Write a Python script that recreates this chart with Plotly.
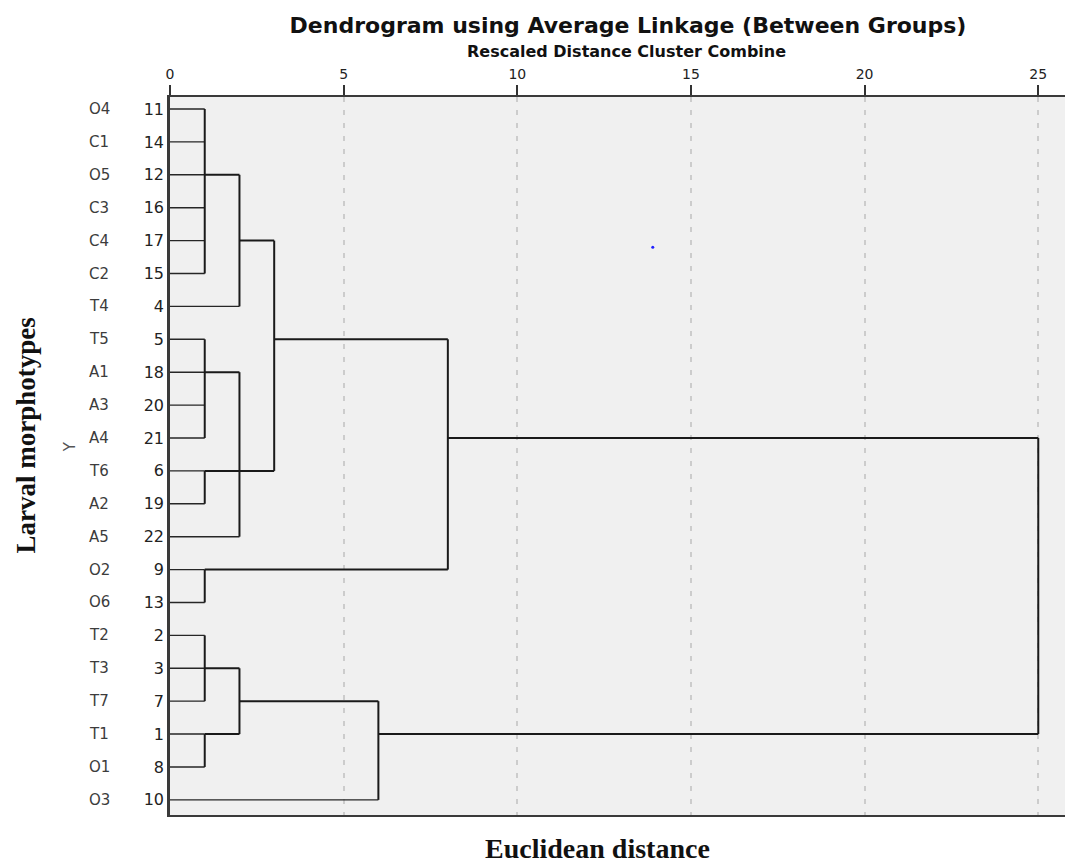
import math
import plotly.graph_objects as go

# ---------------- data ----------------
leaf_ids = [11, 14, 12, 16, 17, 15, 4, 5, 18, 20, 21, 6, 19, 22, 9, 13, 2, 3, 7, 1, 8, 10]
leaf_codes = ["O4", "C1", "O5", "C3", "C4", "C2", "T4", "T5", "A1", "A3", "A4",
              "T6", "A2", "A5", "O2", "O6", "T2", "T3", "T7", "T1", "O1", "O3"]

# merges (ints = case numbers, "M#" = earlier merge), with rescaled distances
merge_children = [
    [11, 14, 12, 16, 17, 15],   # M0
    ["M0", 4],                  # M1
    [5, 18, 20, 21],            # M2
    [6, 19],                    # M3
    ["M2", "M3", 22],           # M4
    ["M1", "M4"],               # M5
    [9, 13],                    # M6
    ["M5", "M6"],               # M7
    [2, 3, 7],                  # M8
    [1, 8],                     # M9
    ["M8", "M9"],               # M10
    ["M10", 10],                # M11
    ["M7", "M11"],              # M12
]
merge_heights = [1, 2, 1, 1, 2, 3, 1, 8, 1, 1, 2, 6, 25]

x_ticks = [0, 5, 10, 15, 20, 25]
stray_x = [13.9]
stray_y = [4.2]

# ---------------- build segments ----------------
pos = {lid: i for i, lid in enumerate(leaf_ids)}
hgt = {lid: 0 for lid in leaf_ids}

leaf_x, leaf_y, br_x, br_y = [], [], [], []
for k, (children, h) in enumerate(zip(merge_children, merge_heights)):
    ps = []
    for c in children:
        p, ch = pos[c], hgt[c]
        ps.append(p)
        if isinstance(c, int):
            leaf_x.extend([ch, h, None]); leaf_y.extend([p, p, None])
        else:
            br_x.extend([ch, h, None]); br_y.extend([p, p, None])
    br_x.extend([h, h, None]); br_y.extend([min(ps), max(ps), None])
    s = sorted(ps)
    n = len(s)
    med = s[n // 2] if n % 2 else (s[n // 2 - 1] + s[n // 2]) / 2
    pos["M%d" % k] = math.floor(med)
    hgt["M%d" % k] = h

fig = go.Figure()
fig.add_trace(go.Scatter(x=leaf_x, y=leaf_y, mode="lines",
                         line=dict(color="#262626", width=1.4),
                         hoverinfo="skip", showlegend=False))
fig.add_trace(go.Scatter(x=br_x, y=br_y, mode="lines",
                         line=dict(color="#1a1a1a", width=2),
                         hoverinfo="skip", showlegend=False))
fig.add_trace(go.Scatter(x=stray_x, y=stray_y, mode="markers",
                         marker=dict(color="#2020ff", size=3),
                         hoverinfo="skip", showlegend=False))

sans = "DejaVu Sans"
for i, code in enumerate(leaf_codes):
    fig.add_annotation(x=-0.0785, xref="paper", y=i, yref="y", text=code,
                       showarrow=False, xanchor="center", yanchor="middle",
                       font=dict(family=sans, size=15, color="#3c3c3c"))

fig.add_annotation(x=0.5055, xref="paper", y=1.0627, yref="paper",
                   text="<b>Rescaled Distance Cluster Combine</b>", showarrow=False,
                   xanchor="center", yanchor="middle",
                   font=dict(family=sans, size=16, color="#111111"))
fig.add_annotation(x=0.473, xref="paper", y=-0.047, yref="paper",
                   text="<b>Euclidean distance</b>", showarrow=False,
                   xanchor="center", yanchor="middle",
                   font=dict(family="Liberation Serif", size=28, color="#111111"))
fig.add_annotation(x=-0.160, xref="paper", y=0.528, yref="paper",
                   text="<b>Larval morphotypes</b>", showarrow=False, textangle=-90,
                   xanchor="center", yanchor="middle",
                   font=dict(family="Liberation Serif", size=27, color="#111111"))
fig.add_annotation(x=-0.1105, xref="paper", y=0.5125, yref="paper",
                   text="Y", showarrow=False, textangle=-90,
                   xanchor="center", yanchor="middle",
                   font=dict(family=sans, size=15, color="#555555"))

W, H = 1065, 855
fig.update_layout(
    width=W, height=H,
    margin=dict(l=162, r=0, t=89, b=48),
    paper_bgcolor="white", plot_bgcolor="#f0f0f0",
    title=dict(text="<b>Dendrogram using Average Linkage (Between Groups)</b>",
               x=(628 - 8) / W, xref="container", xanchor="center",
               y=1 - 17 / H, yref="container", yanchor="middle",
               font=dict(family=sans, size=22, color="#111111")),
    xaxis=dict(side="top", range=[0, 26.0], tickvals=x_ticks,
               ticktext=[str(v) for v in x_ticks],
               ticks="outside", ticklen=10, tickwidth=2, tickcolor="#333333",
               showline=True, linecolor="#3a3a3a", linewidth=2, mirror=True,
               showgrid=True, gridcolor="#cccccc", gridwidth=1.5, griddash="5px,8px",
               zeroline=False,
               tickfont=dict(family=sans, size=14, color="#222222")),
    yaxis=dict(range=[21.46, -0.365], tickvals=list(range(len(leaf_ids))),
               ticktext=[str(v) for v in leaf_ids], ticks="",
               showline=True, linecolor="#3a3a3a", linewidth=2.5,
               showgrid=False, zeroline=False,
               tickfont=dict(family=sans, size=16, color="#222222")),
)

fig.write_html("out.html")
